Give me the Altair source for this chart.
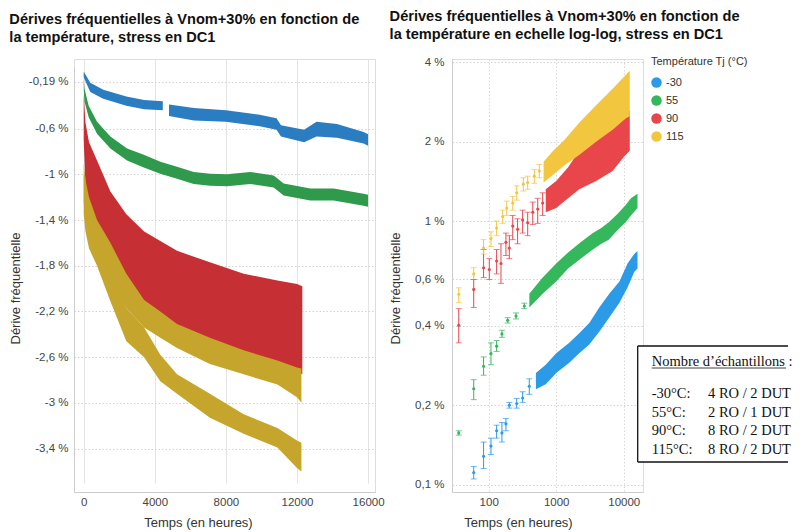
import altair as alt
import pandas as pd

TEMPS = ["-30", "55", "90", "115"]
LEFT_COLORS = ["#2a7dc0", "#2f9a4b", "#c62f33", "#c5a52b"]
RIGHT_COLORS = ["#2b9be8", "#35b75c", "#e8464b", "#f3c640"]

TITLE_LEFT = ["Dérives fréquentielles à Vnom+30% en fonction de",
              "la température, stress en DC1"]
TITLE_RIGHT = ["Dérives fréquentielles à Vnom+30% en fonction de",
               "la température en echelle log-log, stress en DC1"]

# ---------------- left chart (linear), drift in % ----------------
L_BLUE_T = [0, 370, 1100, 2400, 3400, 4450, 4800, 6200, 8000, 9900, 10850, 11100, 12400, 13100, 14250, 15750, 16000]
L_BLUE_HI = [-0.10, -0.20, -0.26, -0.32, -0.35, -0.36, -0.39, -0.42, -0.44, -0.48, -0.51, -0.57, -0.61, -0.54, -0.56, -0.63, -0.65]
L_BLUE_LO = [-0.15, -0.28, -0.34, -0.40, -0.43, -0.44, -0.49, -0.53, -0.54, -0.58, -0.61, -0.67, -0.72, -0.67, -0.68, -0.73, -0.75]
L_BLUE_SEG = ["a", "a", "a", "a", "a", "a", "b", "b", "b", "b", "b", "b", "b", "b", "b", "b", "b"]

L_GREEN_T = [0, 40, 280, 750, 1500, 2440, 3380, 4310, 5250, 6190, 7120, 8060, 9370, 10690, 11250, 12750, 14065, 15750, 16000]
L_GREEN_HI = [-0.15, -0.25, -0.40, -0.54, -0.67, -0.775, -0.83, -0.89, -0.935, -0.98, -0.995, -1.0, -0.98, -1.01, -1.08, -1.125, -1.125, -1.17, -1.18]
L_GREEN_LO = [-0.25, -0.36, -0.50, -0.645, -0.775, -0.88, -0.94, -0.995, -1.04, -1.085, -1.10, -1.105, -1.085, -1.115, -1.185, -1.23, -1.23, -1.275, -1.285]

L_RED_T = [0, 100, 300, 750, 1500, 2400, 3400, 5250, 7100, 9000, 10900, 12000, 12300]
L_RED_HI = [-0.30, -0.55, -0.72, -0.88, -1.15, -1.35, -1.50, -1.67, -1.77, -1.87, -1.93, -1.96, -1.98]
L_RED_LO = [-0.70, -1.10, -1.35, -1.62, -1.85, -2.00, -2.12, -2.32, -2.45, -2.56, -2.65, -2.72, -2.75]

L_YEL_T = [0, 100, 300, 750, 1500, 2400, 3400, 4310, 5250, 7100, 9000, 10900, 12000, 12250]
L_YELA_HI = [-0.90, -1.05, -1.20, -1.40, -1.60, -1.87, -2.10, -2.20, -2.31, -2.43, -2.54, -2.63, -2.69, -2.70]
L_YELA_LO = [-1.25, -1.40, -1.52, -1.65, -1.90, -2.17, -2.34, -2.43, -2.52, -2.66, -2.75, -2.84, -2.95, -3.00]
L_YELB_HI = [-1.00, -1.15, -1.30, -1.50, -1.85, -2.17, -2.34, -2.58, -2.75, -2.92, -3.10, -3.22, -3.33, -3.35]
L_YELB_LO = [-1.35, -1.50, -1.65, -1.80, -2.11, -2.46, -2.60, -2.81, -2.92, -3.13, -3.27, -3.39, -3.57, -3.60]

L_Y_TICKS = [-0.19, -0.6, -1, -1.4, -1.8, -2.2, -2.6, -3, -3.4]
L_X_TICKS = [0, 4000, 8000, 12000, 16000]

# ---------------- right chart (log-log), |drift| in % ----------------
R_BLUE_PT_T = [60, 84, 108, 131, 157, 180, 202, 260, 318, 399]
R_BLUE_PT_V = [0.111, 0.128, 0.140, 0.160, 0.157, 0.170, 0.200, 0.203, 0.213, 0.236]
R_BLUE_PT_LO = [0.105, 0.115, 0.130, 0.150, 0.145, 0.160, 0.195, 0.195, 0.205, 0.220]
R_BLUE_PT_HI = [0.117, 0.145, 0.150, 0.168, 0.172, 0.178, 0.205, 0.212, 0.225, 0.252]

R_GREEN_PT_T = [36, 60, 84, 108, 131, 157, 191, 254, 337]
R_GREEN_PT_V = [0.157, 0.231, 0.281, 0.314, 0.335, 0.373, 0.420, 0.436, 0.476]
R_GREEN_PT_LO = [0.154, 0.210, 0.260, 0.285, 0.320, 0.362, 0.410, 0.425, 0.465]
R_GREEN_PT_HI = [0.160, 0.250, 0.305, 0.345, 0.352, 0.385, 0.430, 0.448, 0.488]

R_RED_PT_T = [36, 60, 84, 102, 131, 152, 180, 202, 227, 268, 318, 378, 449, 532, 630]
R_RED_PT_V = [0.402, 0.55, 0.665, 0.655, 0.705, 0.69, 0.83, 0.79, 0.957, 0.93, 1.01, 0.985, 1.08, 1.11, 1.17]
R_RED_PT_LO = [0.345, 0.47, 0.61, 0.60, 0.63, 0.58, 0.74, 0.72, 0.85, 0.82, 0.90, 0.88, 0.97, 0.98, 1.05]
R_RED_PT_HI = [0.465, 0.60, 0.78, 0.72, 0.78, 0.82, 0.90, 0.88, 1.05, 1.02, 1.10, 1.08, 1.18, 1.22, 1.28]

R_YEL_PT_T = [36, 60, 84, 108, 131, 161, 185, 227, 260, 326, 378, 474, 562]
R_YEL_PT_V = [0.527, 0.63, 0.79, 0.858, 0.94, 1.04, 1.12, 1.17, 1.28, 1.38, 1.40, 1.48, 1.55]
R_YEL_PT_LO = [0.49, 0.60, 0.75, 0.80, 0.88, 0.98, 1.05, 1.10, 1.20, 1.30, 1.32, 1.39, 1.46]
R_YEL_PT_HI = [0.558, 0.665, 0.85, 0.91, 1.00, 1.10, 1.19, 1.24, 1.36, 1.46, 1.48, 1.57, 1.64]

R_BLUE_BAND_T = [500, 700, 1000, 1560, 2190, 3090, 4340, 6110, 8640, 11400, 14300, 16000]
R_BLUE_BAND_LO = [0.23, 0.24, 0.265, 0.29, 0.315, 0.34, 0.38, 0.43, 0.49, 0.56, 0.64, 0.66]
R_BLUE_BAND_HI = [0.265, 0.285, 0.315, 0.345, 0.375, 0.41, 0.47, 0.53, 0.59, 0.69, 0.75, 0.77]

R_GREEN_BAND_T = [400, 630, 1000, 1500, 2300, 3500, 4650, 6000, 8000, 10700, 12800, 16000]
R_GREEN_BAND_LO = [0.47, 0.53, 0.59, 0.66, 0.72, 0.78, 0.82, 0.85, 0.92, 0.99, 1.05, 1.12]
R_GREEN_BAND_HI = [0.53, 0.61, 0.69, 0.76, 0.83, 0.90, 0.94, 0.99, 1.06, 1.15, 1.22, 1.27]

R_RED_BAND_T = [700, 1000, 1500, 2190, 3900, 6850, 10000, 12300]
R_RED_BAND_LO = [1.08, 1.12, 1.22, 1.32, 1.42, 1.55, 1.75, 1.85]
R_RED_BAND_HI = [1.32, 1.42, 1.60, 1.85, 2.10, 2.35, 2.55, 2.62]

R_YEL_BAND_T = [650, 900, 1300, 2190, 3900, 6850, 10700, 12300]
R_YEL_BAND_LO = [1.40, 1.50, 1.62, 1.78, 2.00, 2.22, 2.45, 2.50]
R_YEL_BAND_HI = [1.68, 1.85, 2.02, 2.36, 2.75, 3.18, 3.58, 3.72]

R_Y_TICKS = [0.1, 0.2, 0.4, 0.6, 1, 2, 4]
R_X_TICKS = [100, 1000, 10000]

BOX_HEADING = "Nombre d’échantillons"
BOX_TEMPS = ["-30°C:", "55°C:", "90°C:", "115°C:"]
BOX_COUNTS = ["4 RO / 2 DUT", "2 RO / 1 DUT", "8 RO / 2 DUT", "8 RO / 2 DUT"]

FONT = "Liberation Sans"
W_L, W_R, H = 301, 191, 433


def band(temp, grp, t, lo, hi):
    return pd.DataFrame({"t": t, "lo": lo, "hi": hi, "temp": temp, "grp": grp})


def pts(temp, t, v, lo, hi):
    return pd.DataFrame({"t": t, "v": v, "lo": lo, "hi": hi, "temp": temp})


# ---------------- LEFT ----------------
blue_a = [i for i, s in enumerate(L_BLUE_SEG) if s == "a"]
blue_b = [i for i, s in enumerate(L_BLUE_SEG) if s == "b"]
left_bands = [
    band("-30", "a", [L_BLUE_T[i] for i in blue_a], [L_BLUE_LO[i] for i in blue_a], [L_BLUE_HI[i] for i in blue_a]),
    band("-30", "b", [L_BLUE_T[i] for i in blue_b], [L_BLUE_LO[i] for i in blue_b], [L_BLUE_HI[i] for i in blue_b]),
    band("55", "a", L_GREEN_T, L_GREEN_LO, L_GREEN_HI),
    band("90", "a", L_RED_T, L_RED_LO, L_RED_HI),
    band("115", "a", L_YEL_T, L_YELA_LO, L_YELA_HI),
    band("115", "b", L_YEL_T, L_YELB_LO, L_YELB_HI),
]

lx = alt.X("t:Q",
           scale=alt.Scale(domain=[-546, 16390], nice=False, zero=False),
           axis=alt.Axis(values=L_X_TICKS, format="d", title="Temps (en heures)",
                         titleX=124, titlePadding=9, titleFontSize=13, titleFontWeight="normal",
                         titleColor="#333", labelFontSize=11.5, labelColor="#444", labelPadding=4,
                         ticks=False, domainColor="#cccccc", gridColor="#e4e4e4", labelFont=FONT,
                         titleFont=FONT))
ly_axis = alt.Axis(values=L_Y_TICKS, title="Dérive fréquentielle",
                   labelExpr="(datum.value < 0 ? '-' : '') + replace(format(abs(datum.value), '.2~f'), '.', ',') + ' %'",
                   titleY=229, titlePadding=6, titleFontSize=13, titleFontWeight="normal", titleColor="#333",
                   labelFontSize=11.5, labelColor="#444", labelPadding=6, ticks=False,
                   domainColor="#cccccc", gridColor="#d2d2d2", gridDash=[1.5, 2], labelFont=FONT, titleFont=FONT)
ly_scale = alt.Scale(domain=[-3.78, -0.07], range=[H, 9], nice=False, zero=False)
left_cs = alt.Scale(domain=TEMPS, range=LEFT_COLORS)

left_layers = []
for df in left_bands:
    left_layers.append(
        alt.Chart(df).mark_area(opacity=1, interpolate="linear").encode(
            x=lx,
            y=alt.Y("lo:Q", scale=ly_scale, axis=ly_axis),
            y2="hi:Q",
            color=alt.Color("temp:N", scale=left_cs, legend=None),
        )
    )

left = alt.layer(*left_layers).properties(
    width=W_L, height=H,
    title=alt.TitleParams(TITLE_LEFT, anchor="start", frame="bounds", fontSize=14.6, font=FONT,
                          fontWeight="bold", color="#111", lineHeight=18, offset=14),
)

# ---------------- RIGHT ----------------
right_bands = [
    band("-30", "a", R_BLUE_BAND_T, R_BLUE_BAND_LO, R_BLUE_BAND_HI),
    band("55", "a", R_GREEN_BAND_T, R_GREEN_BAND_LO, R_GREEN_BAND_HI),
    band("90", "a", R_RED_BAND_T, R_RED_BAND_LO, R_RED_BAND_HI),
    band("115", "a", R_YEL_BAND_T, R_YEL_BAND_LO, R_YEL_BAND_HI),
]
right_pts = pd.concat([
    pts("-30", R_BLUE_PT_T, R_BLUE_PT_V, R_BLUE_PT_LO, R_BLUE_PT_HI),
    pts("55", R_GREEN_PT_T, R_GREEN_PT_V, R_GREEN_PT_LO, R_GREEN_PT_HI),
    pts("90", R_RED_PT_T, R_RED_PT_V, R_RED_PT_LO, R_RED_PT_HI),
    pts("115", R_YEL_PT_T, R_YEL_PT_V, R_YEL_PT_LO, R_YEL_PT_HI),
], ignore_index=True)

rx = alt.X("t:Q",
           scale=alt.Scale(type="log", domain=[28.6, 19300], nice=False),
           axis=alt.Axis(values=R_X_TICKS, format="d", title="Temps (en heures)",
                         titleX=66, titlePadding=9, titleFontSize=13, titleFontWeight="normal",
                         titleColor="#333", labelFontSize=11.5, labelColor="#444", labelPadding=4,
                         ticks=False, domainColor="#cccccc", gridColor="#d8d8d8", gridDash=[1.5, 2],
                         labelFont=FONT, titleFont=FONT))
ry_scale = alt.Scale(type="log", domain=[0.0937, 4.12], nice=False)
ry_axis = alt.Axis(values=R_Y_TICKS, title="Dérive fréquentielle",
                   labelExpr="replace(format(datum.value, '.1~f'), '.', ',') + ' %'",
                   titleY=229, titlePadding=12, titleFontSize=13, titleFontWeight="normal", titleColor="#333",
                   labelFontSize=11.5, labelColor="#444", labelPadding=8, ticks=False,
                   domainColor="#cccccc", gridColor="#d2d2d2", gridDash=[1.5, 2], labelFont=FONT, titleFont=FONT)
right_cs = alt.Scale(domain=TEMPS, range=RIGHT_COLORS)
rcolor = alt.Color("temp:N", scale=right_cs, sort=TEMPS,
                   legend=alt.Legend(title="Température Tj (°C)", symbolType="circle", symbolSize=110,
                                     symbolStrokeWidth=0, titleFontSize=11, titleFontWeight="normal",
                                     titleColor="#333", labelFontSize=11, labelColor="#333",
                                     rowPadding=6, titlePadding=10, orient="none", legendX=199, legendY=-3,
                                     padding=0, labelFont=FONT, titleFont=FONT))

right_layers = []
for df in right_bands:
    right_layers.append(
        alt.Chart(df).mark_area(opacity=1).encode(
            x=rx, y=alt.Y("lo:Q", scale=ry_scale, axis=ry_axis), y2="hi:Q", color=rcolor)
    )
base_pts = alt.Chart(right_pts)
right_layers.append(base_pts.mark_rule(strokeWidth=1).encode(
    x=rx, y=alt.Y("lo:Q", scale=ry_scale, axis=ry_axis), y2="hi:Q", color=rcolor))
right_layers.append(base_pts.mark_tick(orient="horizontal", size=6, thickness=1).encode(
    x=rx, y=alt.Y("lo:Q", scale=ry_scale, axis=ry_axis), color=rcolor))
right_layers.append(base_pts.mark_tick(orient="horizontal", size=6, thickness=1).encode(
    x=rx, y=alt.Y("hi:Q", scale=ry_scale, axis=ry_axis), color=rcolor))
right_layers.append(base_pts.mark_circle(size=10, opacity=1).encode(
    x=rx, y=alt.Y("v:Q", scale=ry_scale, axis=ry_axis), color=rcolor))

# annotation box (cut by the page's right edge, as in the original)
BOX_L, BOX_R, BOX_T, BOX_B = 185.7, 336, 287, 403
one = pd.DataFrame({"k": [0]})
right_layers.append(alt.Chart(one).mark_rect(fill="white", strokeWidth=0).encode(
    x=alt.value(BOX_L), x2=alt.value(BOX_R), y=alt.value(BOX_T), y2=alt.value(BOX_B)))
for (xa, xb, ya, yb) in [(BOX_L, BOX_L, BOX_T, BOX_B), (BOX_L, BOX_R, BOX_T, BOX_T), (BOX_L, BOX_R, BOX_B, BOX_B)]:
    right_layers.append(alt.Chart(one).mark_rule(color="#111", strokeWidth=1.3).encode(
        x=alt.value(xa), x2=alt.value(xb), y=alt.value(ya), y2=alt.value(yb)))
right_layers.append(alt.Chart(one).mark_text(align="left", baseline="alphabetic", font="Liberation Serif",
                                             fontSize=14.5, color="#111").encode(
    x=alt.value(199.7), y=alt.value(307), text=alt.value(BOX_HEADING + " :")))
right_layers.append(alt.Chart(one).mark_rule(color="#111", strokeWidth=0.8).encode(
    x=alt.value(199.7), x2=alt.value(334), y=alt.value(309)))
right_layers.append(alt.Chart(one).mark_text(align="left", baseline="alphabetic", font="Liberation Serif",
                                             fontSize=14.5, color="#111", lineBreak="\n", lineHeight=18.5).encode(
    x=alt.value(199.7), y=alt.value(339), text=alt.value("\n".join(BOX_TEMPS))))
right_layers.append(alt.Chart(one).mark_text(align="left", baseline="alphabetic", font="Liberation Serif",
                                             fontSize=14.5, color="#111", lineBreak="\n", lineHeight=18.5).encode(
    x=alt.value(256), y=alt.value(339), text=alt.value("\n".join(BOX_COUNTS))))

right = alt.layer(*right_layers).properties(
    width=W_R, height=H,
    title=alt.TitleParams(TITLE_RIGHT, anchor="start", frame="bounds", fontSize=14.6, font=FONT,
                          fontWeight="bold", color="#111", lineHeight=18, offset=14),
)

chart = alt.hconcat(left, right, spacing=4).resolve_scale(color="independent").properties(
    padding={"left": 0, "top": 0, "right": 0, "bottom": 0}
).configure_view(strokeWidth=0).configure(font=FONT, background="white")

chart.save("out.html", embed_options={"renderer": "svg", "actions": False})
